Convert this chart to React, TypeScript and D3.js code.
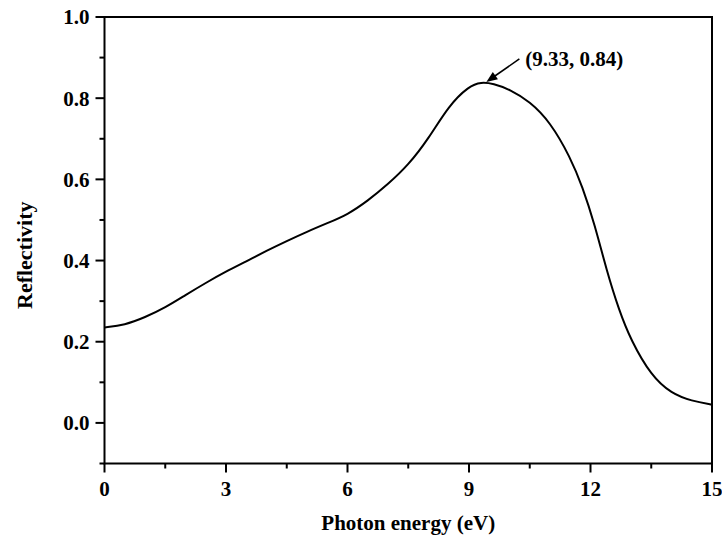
import React from "react";
import * as d3 from "d3";

// values
const energy = [0, 0.5, 1.0, 1.5, 2.0, 2.5, 3.0, 3.5, 4.0, 4.5, 5.0, 5.5, 6.0, 6.5, 7.0, 7.5, 8.0, 8.5, 9.0, 9.3, 9.6, 10.0, 10.5, 11.0, 11.5, 11.8, 12.1, 12.4, 12.7, 13.0, 13.5, 14.0, 14.5, 15.0];
const reflectivity = [0.235, 0.241, 0.26, 0.284, 0.315, 0.345, 0.373, 0.398, 0.424, 0.448, 0.471, 0.492, 0.513, 0.547, 0.588, 0.635, 0.7, 0.782, 0.83, 0.84, 0.836, 0.822, 0.792, 0.742, 0.655, 0.582, 0.49, 0.375, 0.279, 0.203, 0.116, 0.072, 0.054, 0.045];
const xTicks = [0, 3, 6, 9, 12, 15];
const xMinor = [1.5, 4.5, 7.5, 10.5, 13.5];
const yTicks = [0, 0.2, 0.4, 0.6, 0.8, 1.0];
const yMinor = [-0.1, 0.1, 0.3, 0.5, 0.7, 0.9];
const peak = { x: 9.33, y: 0.84, label: "(9.33, 0.84)" };

const W = 722, H = 539;
const left = 104.5, right = 712, top = 17, bottom = 463.5;
const font = "'Liberation Serif', 'Times New Roman', serif";

export default function App() {
  const x = d3.scaleLinear().domain([0, 15]).range([left, right]);
  const y = d3.scaleLinear().domain([-0.1, 1.0]).range([bottom, top]);
  const pts: [number, number][] = energy.map((e, i) => [e, reflectivity[i]]);
  const line = d3.line<[number, number]>()
    .x(d => x(d[0]))
    .y(d => y(d[1]))
    .curve(d3.curveBasis);

  const hx = x(peak.x) + 4, hy = y(peak.y);
  const tx = hx + 33, ty = hy - 23;
  const ang = Math.atan2(hy - ty, hx - tx);
  const aL = 11, aW = 4.5;
  const head = [
    [hx, hy],
    [hx - aL * Math.cos(ang) + aW * Math.sin(ang), hy - aL * Math.sin(ang) - aW * Math.cos(ang)],
    [hx - aL * Math.cos(ang) - aW * Math.sin(ang), hy - aL * Math.sin(ang) + aW * Math.cos(ang)],
  ].map(p => p.join(",")).join(" ");

  return (
    <svg width={W} height={H} style={{ position: "absolute", left: 0, top: 0, background: "#fff" }}
      fontFamily={font} fontWeight="bold">
      <path d={line(pts) || ""} fill="none" stroke="#000" strokeWidth={2} />
      <rect x={left} y={top} width={right - left} height={bottom - top} fill="none" stroke="#000" strokeWidth={2} />
      {xTicks.map(t => (
        <g key={"x" + t}>
          <line x1={x(t)} x2={x(t)} y1={bottom} y2={bottom + 9} stroke="#000" strokeWidth={2} />
          <text x={x(t)} y={bottom + 32} textAnchor="middle" fontSize={21}>{t}</text>
        </g>
      ))}
      {xMinor.map(t => (
        <line key={"xm" + t} x1={x(t)} x2={x(t)} y1={bottom} y2={bottom + 5} stroke="#000" strokeWidth={2} />
      ))}
      {yTicks.map(t => (
        <g key={"y" + t}>
          <line x1={left} x2={left - 9} y1={y(t)} y2={y(t)} stroke="#000" strokeWidth={2} />
          <text x={left - 15} y={y(t)} dy="0.35em" textAnchor="end" fontSize={21}>{t.toFixed(1)}</text>
        </g>
      ))}
      {yMinor.map(t => (
        <line key={"ym" + t} x1={left} x2={left - 5} y1={y(t)} y2={y(t)} stroke="#000" strokeWidth={2} />
      ))}
      <line x1={tx} y1={ty} x2={hx - 6 * Math.cos(ang)} y2={hy - 6 * Math.sin(ang)} stroke="#000" strokeWidth={1.6} />
      <polygon points={head} fill="#000" />
      <text x={tx + 6} y={ty + 7} fontSize={21}>{peak.label}</text>
      <text x={(left + right) / 2} y={530} textAnchor="middle" fontSize={21}>Photon energy (eV)</text>
      <text transform={`translate(32,${(top + bottom) / 2 + 15}) rotate(-90)`} textAnchor="middle" fontSize={22}>Reflectivity</text>
    </svg>
  );
}
